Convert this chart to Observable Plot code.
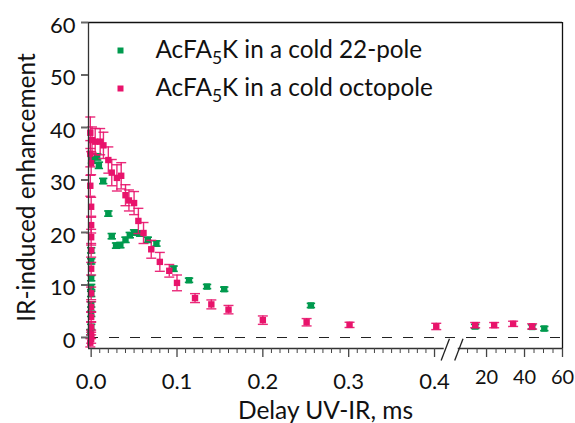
<!DOCTYPE html>
<html><head><meta charset="utf-8">
<script src="https://cdn.jsdelivr.net/npm/d3@7"></script>
<script src="https://cdn.jsdelivr.net/npm/@observablehq/plot@0.6"></script>
<style>
html,body{margin:0;padding:0;background:#fff;}
#chart{width:575px;height:423px;overflow:hidden;}
</style></head><body><div id="chart"></div>
<script>
// ---------------- data ----------------
const seriesNames = ["AcFA5K in a cold 22-pole", "AcFA5K in a cold octopole"];

// 22-pole (green): delay in ms, enhancement, error
const poleX = [-0.001, 0, 0, 0, 0, 0, 0, 0, 0, 0.001, 0.007, 0.009, 0.014, 0.020, 0.024, 0.029, 0.034, 0.040, 0.045, 0.050, 0.057, 0.066, 0.076, 0.096, 0.114, 0.135, 0.155, 0.256, 14, 44, 50.4];
const poleY = [1.0, 2.0, 4.5, 6.3, 8.3, 9.6, 11.3, 14.5, 16.6, 33.8, 34.4, 32.8, 29.8, 23.6, 19.3, 17.5, 17.6, 18.6, 19.5, 20.0, 19.8, 18.6, 17.9, 13.1, 10.9, 9.7, 9.2, 6.1, 2.1, 2.0, 1.7];
const poleErr = [0.5, 0.5, 0.5, 0.5, 0.5, 0.5, 0.5, 0.5, 0.5, 0.6, 0.6, 0.6, 0.5, 0.5, 0.5, 0.5, 0.5, 0.5, 0.5, 0.5, 0.5, 0.5, 0.5, 0.5, 0.4, 0.4, 0.4, 0.4, 0.4, 0.4, 0.4];

// octopole (pink)
const octoX = [-0.001, 0, 0, 0, 0, 0, 0, 0, 0, 0, 0, 0, -0.001, 0, -0.001, 0.001, -0.001, 0.0047, 0.0105, 0.0143, 0.020, 0.024, 0.030, 0.035, 0.040, 0.044, 0.050, 0.055, 0.061, 0.070, 0.080, 0.091, 0.100, 0.121, 0.140, 0.160, 0.200, 0.251, 0.301, 0.402, 14, 24, 34, 44];
const octoY = [-1.0, -0.3, 0.6, 2.0, 3.9, 5.8, 8.4, 13.1, 16.6, 19.1, 21.4, 24.9, 28.9, 33.2, 35.0, 37.6, 39.0, 37.3, 37.3, 36.6, 33.8, 31.4, 30.4, 30.8, 27.1, 26.1, 25.6, 22.2, 19.9, 16.8, 14.4, 12.7, 10.4, 7.5, 6.3, 5.3, 3.3, 2.9, 2.4, 2.1, 2.35, 2.35, 2.6, 2.1];
const octoErr = [0.8, 0.8, 0.8, 1.0, 1.0, 1.0, 1.2, 1.2, 1.3, 1.5, 1.5, 1.8, 2.0, 2.2, 2.5, 2.5, 3.0, 2.5, 2.5, 2.5, 2.5, 2.5, 2.5, 2.5, 2.0, 2.0, 2.2, 2.4, 2.0, 1.7, 1.8, 1.2, 1.5, 0.85, 0.85, 0.8, 0.8, 0.7, 0.5, 0.6, 0.5, 0.5, 0.5, 0.5];

const leftTicks = [0, 0.1, 0.2, 0.3, 0.4];
const leftTickLabels = ["0.0", "0.1", "0.2", "0.3", "0.4"];
const rightTicks = [20, 40, 60];
const rightTickLabels = ["20", "40", "60"];
const yTicks = [0, 10, 20, 30, 40, 50, 60];

// ---------------- broken x axis ----------------
const BREAK_MS = 0.45;
const R_ANCHOR_MS = 20, R_ANCHOR_U = 0.4606, R_SLOPE = 0.002212;
const u = ms => ms <= BREAK_MS ? ms : R_ANCHOR_U + (ms - R_ANCHOR_MS) * R_SLOPE;
const xMin = -0.0031, xMax = u(60);
const yMin = -2.1, yMax = 60;
const leftEnd = 0.4113, rightStart = 0.4276;

const minorLeft = d3.range(1, 40).filter(i => i % 10 !== 0).map(i => i / 100);
const minorRight = [10, 15, 25, 30, 35, 45, 50, 55];

const GREEN = "#009a4e", PINK = "#e8136b";

const rows = (xs, ys, es) => xs.map((x, i) => ({u: u(x), y: ys[i], lo: ys[i] - es[i], hi: ys[i] + es[i]}));
const pole = rows(poleX, poleY, poleErr);
const octo = rows(octoX, octoY, octoErr);
const caps = rs => rs.flatMap(r => [{u: r.u, y: r.lo}, {u: r.u, y: r.hi}]);

const hline = {draw(ctx, size) { const r = Math.sqrt(size / Math.PI); ctx.moveTo(-r, 0); ctx.lineTo(r, 0); }};
const sq = {draw(ctx, size) { const r = Math.sqrt(size / Math.PI); ctx.rect(-r, -r, 2 * r, 2 * r); }};

// axis break slashes (parallel short lines crossing the bottom axis)
const slashes = [0, 1].map(k => ({x1: 0.4077 + k * 0.0158, y1: -4.4, x2: 0.4174 + k * 0.0158, y2: -0.25}));

const FONT = "Lato, 'Open Sans', sans-serif";

const plot = Plot.plot({
  width: 575, height: 423,
  marginLeft: 88, marginRight: 13, marginTop: 22, marginBottom: 75,
  style: {fontFamily: FONT, background: "#fff", overflow: "visible"},
  x: {type: "linear", domain: [xMin, xMax], label: null},
  y: {type: "linear", domain: [yMin, yMax], label: null},
  marks: [
    Plot.ruleY([0], {stroke: "#222", strokeWidth: 1.2, strokeDasharray: "10,11"}),
    // 22-pole
    Plot.ruleX(pole, {x: "u", y1: "lo", y2: "hi", stroke: GREEN, strokeWidth: 1.5}),
    Plot.dot(caps(pole), {x: "u", y: "y", symbol: hline, r: 4.2, stroke: GREEN, strokeWidth: 1.6}),
    Plot.dot(pole, {x: "u", y: "y", symbol: sq, r: 3.2, fill: GREEN, stroke: "none"}),
    // octopole
    Plot.ruleX(octo, {x: "u", y1: "lo", y2: "hi", stroke: PINK, strokeWidth: 1.4, strokeOpacity: 0.9}),
    Plot.dot(caps(octo), {x: "u", y: "y", symbol: hline, r: 5, stroke: PINK, strokeWidth: 1.4, strokeOpacity: 0.9}),
    Plot.dot(octo, {x: "u", y: "y", symbol: sq, r: 3.2, fill: PINK, stroke: "none"}),
    // frame
    Plot.ruleY([yMax], {stroke: "#111", strokeWidth: 1.3}),
    Plot.ruleX([xMax], {stroke: "#111", strokeWidth: 1.3}),
    Plot.ruleX([xMin], {stroke: "#333", strokeWidth: 1.3}),
    Plot.ruleY([yMin], {x1: xMin, x2: leftEnd, stroke: "#333", strokeWidth: 1.3}),
    Plot.ruleY([yMin], {x1: rightStart, x2: xMax, stroke: "#333", strokeWidth: 1.3}),
    Plot.link(slashes, {x1: "x1", y1: "y1", x2: "x2", y2: "y2", stroke: "#222", strokeWidth: 1.3, clip: false}),
    // ticks
    Plot.axisX({ticks: [...minorLeft, ...minorRight.map(u)], tickSize: 5, tickFormat: () => "", stroke: "#444", label: null}),
    Plot.axisX({ticks: [...leftTicks, ...rightTicks.map(u)], tickSize: 9, tickFormat: () => "", stroke: "#444", strokeWidth: 1.3, label: null}),
    Plot.axisY({ticks: yTicks, tickSize: 7, tickFormat: () => "", stroke: "#666", strokeWidth: 2, label: null}),
    // tick labels
    Plot.text(leftTicks, {x: d => u(d), text: (d, i) => leftTickLabels[i], frameAnchor: "bottom", dy: 33, textAnchor: "middle", lineAnchor: "middle", fontSize: 22, fill: "#111"}),
    Plot.text(rightTicks, {x: d => u(d), text: (d, i) => rightTickLabels[i], frameAnchor: "bottom", dy: 29, textAnchor: "middle", lineAnchor: "middle", fontSize: 20, fill: "#111"}),
    Plot.text(yTicks, {y: d => d, text: d => String(d), frameAnchor: "left", dx: -13, dy: 3, textAnchor: "end", lineAnchor: "middle", fontSize: 22, fill: "#111"}),
    // axis titles
    Plot.text(["Delay UV-IR, ms"], {frameAnchor: "bottom", dy: 63, textAnchor: "middle", lineAnchor: "middle", fontSize: 24.5, fill: "#111"}),
    Plot.text(["IR-induced enhancement"], {frameAnchor: "left", dx: -61, dy: 2, rotate: -90, textAnchor: "middle", lineAnchor: "middle", fontSize: 24.5, fill: "#111"}),
    // legend
    Plot.dot([0], {frameAnchor: "top-left", dx: 32, dy: 28, symbol: sq, r: 3, fill: GREEN}),
    Plot.dot([0], {frameAnchor: "top-left", dx: 32, dy: 66, symbol: sq, r: 3, fill: PINK}),
    Plot.text([seriesNames[0]], {frameAnchor: "top-left", dx: 67, dy: 28, textAnchor: "start", lineAnchor: "middle", fontSize: 24.3, fill: "#111"}),
    Plot.text([seriesNames[1]], {frameAnchor: "top-left", dx: 67, dy: 66, textAnchor: "start", lineAnchor: "middle", fontSize: 24.3, fill: "#111"})
  ]
});

// subscript the "5" in AcFA5K
d3.select(plot).selectAll("text").filter(function() { return this.textContent.startsWith("AcFA5K"); }).each(function() {
  const rest = this.textContent.slice(6);
  const t = d3.select(this);
  t.text(null);
  t.append("tspan").text("AcFA");
  t.append("tspan").attr("dy", 6).attr("font-size", "0.72em").text("5");
  t.append("tspan").attr("dy", -6).text("K" + rest);
});

document.getElementById("chart").appendChild(plot);
</script>
</body></html>
